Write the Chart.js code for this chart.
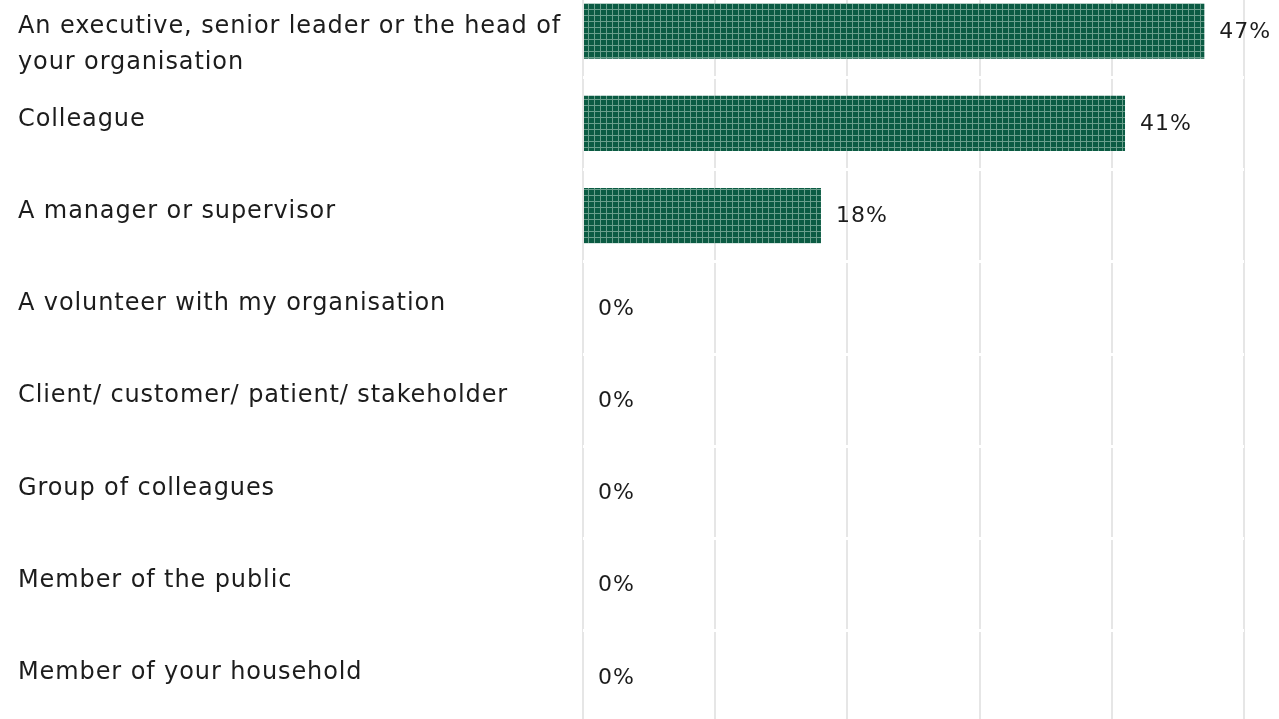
<!DOCTYPE html>
<html>
<head>
<meta charset="utf-8">
<title>Who was the behaviour from</title>
<script src="https://cdn.jsdelivr.net/npm/chart.js@4/dist/chart.umd.min.js"></script>
<style>
    html, body { margin: 0; padding: 0; background: #ffffff; overflow: hidden; }
    .chart-wrap { position: absolute; left: 0; top: -15px; width: 1279px; height: 738px; }
</style>
</head>
<body>
<div class="chart-wrap"><canvas id="sourceChart"></canvas></div>
<script>
const categories = [
    ['An executive, senior leader or the head of', 'your organisation'],
    ['Colleague'],
    ['A manager or supervisor'],
    ['A volunteer with my organisation'],
    ['Client/ customer/ patient/ stakeholder'],
    ['Group of colleagues'],
    ['Member of the public'],
    ['Member of your household']
];
const shares = [47, 41, 18, 0, 0, 0, 0, 0];
const axisTicks = [0, 10, 20, 30, 40, 50];

const labelFont = '24px "DejaVu Sans", sans-serif';
const valueFont = '22px "DejaVu Sans", sans-serif';

// Dark green fill with a fine light grid, built once as a canvas pattern
function makeGridPattern() {
    const tile = document.createElement('canvas');
    tile.width = 6;
    tile.height = 6;
    const c = tile.getContext('2d');
    c.fillStyle = '#0b5b43';
    c.fillRect(0, 0, 6, 6);
    c.fillStyle = '#6a9f8c';
    c.fillRect(0, 0, 6, 1);
    c.fillRect(0, 0, 1, 6);
    return c.createPattern(tile, 'repeat');
}

// Category names drawn left-aligned, first line a little above the row centre
const categoryLabels = {
    id: 'categoryLabels',
    afterDraw(chart) {
        const ctx = chart.ctx;
        const yScale = chart.scales.y;
        ctx.save();
        ctx.font = labelFont;
        ctx.letterSpacing = '0.9px';
        ctx.fillStyle = '#1c1c1c';
        ctx.textAlign = 'left';
        ctx.textBaseline = 'middle';
        categories.forEach((lines, i) => {
            const y = yScale.getPixelForValue(i) - 4;
            lines.forEach((line, j) => ctx.fillText(line, 18, y + j * 36));
        });
        ctx.restore();
    }
};

// Percentage label just past the end of each bar
const valueLabels = {
    id: 'valueLabels',
    afterDatasetsDraw(chart) {
        const ctx = chart.ctx;
        const meta = chart.getDatasetMeta(0);
        ctx.save();
        ctx.font = valueFont;
        ctx.letterSpacing = '1px';
        ctx.fillStyle = '#1c1c1c';
        ctx.textAlign = 'left';
        ctx.textBaseline = 'middle';
        meta.data.forEach((bar, i) => {
            ctx.fillText(shares[i] + '%', bar.x + 15, bar.y + 1);
        });
        ctx.restore();
    }
};

new Chart(document.getElementById('sourceChart'), {
    type: 'bar',
    data: {
        labels: categories.map(c => c.join(' ')),
        datasets: [{
            data: shares,
            backgroundColor: makeGridPattern(),
            borderWidth: 0,
            barPercentage: 0.6,
            categoryPercentage: 1
        }]
    },
    options: {
        indexAxis: 'y',
        responsive: true,
        maintainAspectRatio: false,
        animation: false,
        layout: { padding: { left: 0, right: 35, top: 0, bottom: 0 } },
        plugins: {
            legend: { display: false },
            tooltip: { enabled: false }
        },
        scales: {
            x: {
                min: axisTicks[0],
                max: axisTicks[axisTicks.length - 1],
                afterBuildTicks: scale => { scale.ticks = axisTicks.map(v => ({ value: v })); },
                ticks: { display: false },
                border: { display: false },
                grid: { color: '#e6e6e6', lineWidth: 2, drawTicks: false }
            },
            y: {
                ticks: { display: false },
                border: { display: false },
                afterFit: scale => { scale.width = 583; },
                grid: {
                    offset: true,
                    color: '#ffffff',
                    lineWidth: 3,
                    drawTicks: false,
                    z: 1
                }
            }
        }
    },
    plugins: [valueLabels, categoryLabels]
});
</script>
</body>
</html>
